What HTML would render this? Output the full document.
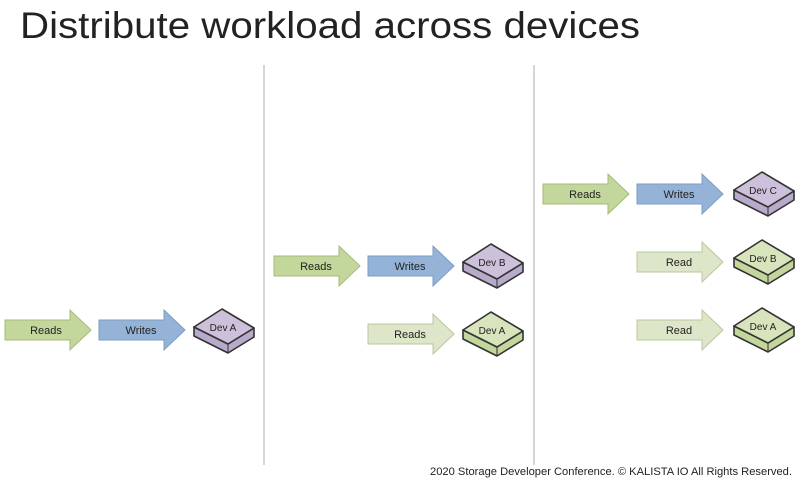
<!DOCTYPE html>
<html><head><meta charset="utf-8"><style>
body{margin:0;width:800px;height:480px;background:#fff;overflow:hidden;font-family:"Liberation Sans",sans-serif}
</style></head><body>
<svg width="800" height="480" xmlns="http://www.w3.org/2000/svg" font-family="Liberation Sans, sans-serif">
<defs>
<g id="ag"><polygon points="0,-10 65,-10 65,-20 86,0 65,20 65,10 0,10" fill="#c3d69b" stroke="#a6bb7a" stroke-width="1"/></g>
<g id="al"><polygon points="0,-10 65,-10 65,-20 86,0 65,20 65,10 0,10" fill="#dde6c9" stroke="#b9c79f" stroke-width="1"/></g>
<g id="ab"><polygon points="0,-10 65,-10 65,-20 86,0 65,20 65,10 0,10" fill="#95b3d7" stroke="#7b9cc4" stroke-width="1"/></g>
<g id="dp">
<polygon points="-30,-3 -30,6 4,23 30,7 30,-2 4,14" fill="#b8aacb" stroke="#333" stroke-width="1.6" stroke-linejoin="round"/>
<polygon points="-30,-3 -2,-21 30,-2 4,14" fill="#ccc0da" stroke="#333" stroke-width="1.6" stroke-linejoin="round"/>
<line x1="4" y1="14" x2="4" y2="23" stroke="#333" stroke-width="1"/>
</g>
<g id="dg">
<polygon points="-30,-3 -30,6 4,23 30,7 30,-2 4,14" fill="#c3d69b" stroke="#333" stroke-width="1.6" stroke-linejoin="round"/>
<polygon points="-30,-3 -2,-21 30,-2 4,14" fill="#d7e4bc" stroke="#333" stroke-width="1.6" stroke-linejoin="round"/>
<line x1="4" y1="14" x2="4" y2="23" stroke="#333" stroke-width="1"/>
</g>
</defs>
<text x="20" y="38" font-size="37" fill="#222" textLength="620" lengthAdjust="spacingAndGlyphs">Distribute workload across devices</text>
<line x1="264" y1="65" x2="264" y2="465" stroke="#bbb" stroke-width="1.2"/>
<line x1="534" y1="65" x2="534" y2="465" stroke="#bbb" stroke-width="1.2"/>
<g font-size="11" fill="#222" text-anchor="middle">
<use href="#ag" x="5" y="330"/><text x="46" y="334">Reads</text>
<use href="#ab" x="99" y="330"/><text x="141" y="334">Writes</text>
<use href="#dp" x="224" y="330"/><text x="223" y="331" font-size="10">Dev A</text>
<use href="#ag" x="274" y="266"/><text x="316" y="270">Reads</text>
<use href="#ab" x="368" y="266"/><text x="410" y="270">Writes</text>
<use href="#dp" x="493" y="265"/><text x="492" y="266" font-size="10">Dev B</text>
<use href="#al" x="368" y="334"/><text x="410" y="338">Reads</text>
<use href="#dg" x="493" y="333"/><text x="492" y="334" font-size="10">Dev A</text>
<use href="#ag" x="543" y="194"/><text x="585" y="198">Reads</text>
<use href="#ab" x="637" y="194"/><text x="679" y="198">Writes</text>
<use href="#dp" x="764" y="193"/><text x="763" y="194" font-size="10">Dev C</text>
<use href="#al" x="637" y="262"/><text x="679" y="266">Read</text>
<use href="#dg" x="764" y="261"/><text x="763" y="262" font-size="10">Dev B</text>
<use href="#al" x="637" y="330"/><text x="679" y="334">Read</text>
<use href="#dg" x="764" y="329"/><text x="763" y="330" font-size="10">Dev A</text>
</g>
<text x="792" y="475" font-size="11" fill="#222" text-anchor="end" textLength="362" lengthAdjust="spacingAndGlyphs">2020 Storage Developer Conference. © KALISTA IO  All Rights Reserved.</text>
</svg>
</body></html>
